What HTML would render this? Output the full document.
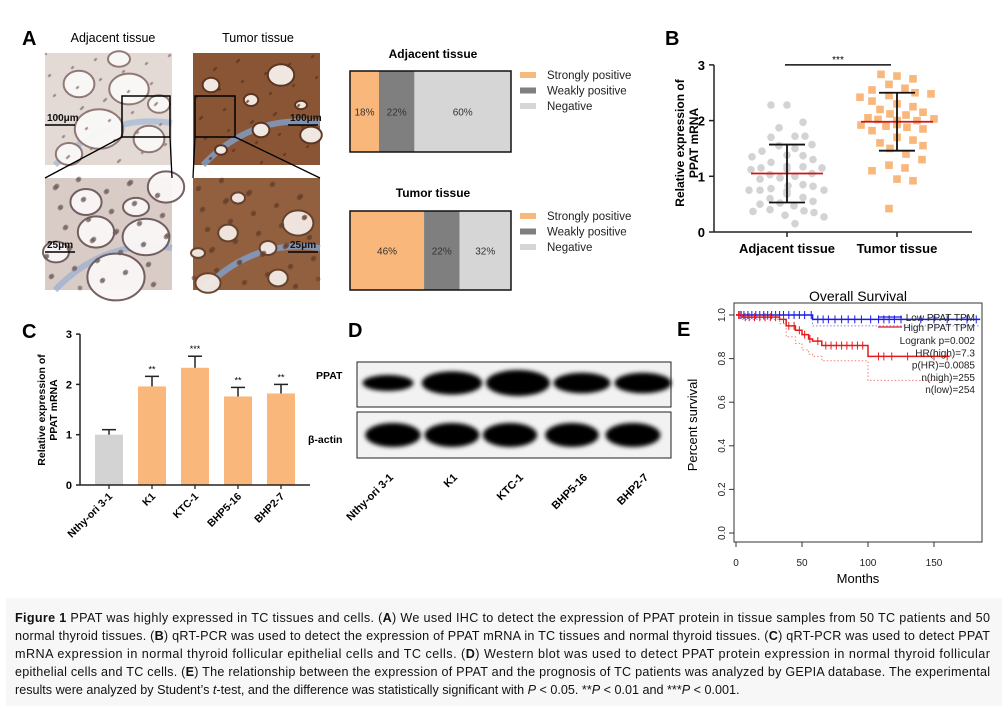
<!DOCTYPE html>
<html><head><meta charset="utf-8">
<style>
html,body{margin:0;padding:0;background:#fff;}
svg{display:block;font-family:"Liberation Sans",Arial,sans-serif;}
.cap{font-size:12.6px;fill:#111;}
</style></head>
<body>
<svg id="fig" width="1008" height="710" viewBox="0 0 1008 710" xmlns="http://www.w3.org/2000/svg">
<defs>
<filter id="blur1" x="-30%" y="-60%" width="160%" height="220%"><feGaussianBlur stdDeviation="2.2"/></filter>
</defs>

<g>
<text x="22" y="45" font-size="20" font-weight="bold">A</text>
<text x="113" y="42" font-size="12.5" text-anchor="middle">Adjacent tissue</text>
<text x="258" y="42" font-size="12.5" text-anchor="middle">Tumor tissue</text>
<g id="tissues"></g>
</g>

<g>
<text x="433" y="58" font-size="12" font-weight="bold" text-anchor="middle">Adjacent tissue</text>
<text x="433" y="197" font-size="12" font-weight="bold" text-anchor="middle">Tumor tissue</text>
<g id="stacks"></g>
</g>

<g>
<text x="665" y="45" font-size="20" font-weight="bold">B</text>
<g id="scatterB"></g>
</g>

<g>
<text x="22" y="338" font-size="20" font-weight="bold">C</text>
<g id="barsC"></g>
</g>

<g>
<text x="348" y="337" font-size="20" font-weight="bold">D</text>
<text x="316" y="379" font-size="10.5" font-weight="bold">PPAT</text>
<text x="308" y="443" font-size="10.5" font-weight="bold">β-actin</text>
<rect x="357" y="362" width="314" height="45" fill="#f2f2f2" stroke="#222" stroke-width="1"/>
<rect x="357" y="412" width="314" height="46" fill="#f2f2f2" stroke="#222" stroke-width="1"/>
<g id="blots"></g>
</g>

<g>
<text x="677" y="336" font-size="20" font-weight="bold">E</text>
<g id="survE"></g>
</g>

<g>
<rect x="6" y="598" width="996" height="108" fill="#f7f7f7"/>
<text class="cap" x="15" y="622" textLength="975" lengthAdjust="spacing"><tspan font-weight="bold">Figure 1</tspan> PPAT was highly expressed in TC tissues and cells. (<tspan font-weight="bold">A</tspan>) We used IHC to detect the expression of PPAT protein in tissue samples from 50 TC patients and 50</text>
<text class="cap" x="15" y="640" textLength="975" lengthAdjust="spacing">normal thyroid tissues. (<tspan font-weight="bold">B</tspan>) qRT-PCR was used to detect the expression of PPAT mRNA in TC tissues and normal thyroid tissues. (<tspan font-weight="bold">C</tspan>) qRT-PCR was used to detect PPAT</text>
<text class="cap" x="15" y="658" textLength="975" lengthAdjust="spacing">mRNA expression in normal thyroid follicular epithelial cells and TC cells. (<tspan font-weight="bold">D</tspan>) Western blot was used to detect PPAT protein expression in normal thyroid follicular</text>
<text class="cap" x="15" y="676" textLength="975" lengthAdjust="spacing">epithelial cells and TC cells. (<tspan font-weight="bold">E</tspan>) The relationship between the expression of PPAT and the prognosis of TC patients was analyzed by GEPIA database. The experimental</text>
<text class="cap" x="15" y="694">results were analyzed by Student’s <tspan font-style="italic">t</tspan>-test, and the difference was statistically significant with <tspan font-style="italic">P</tspan> &lt; 0.05. **<tspan font-style="italic">P</tspan> &lt; 0.01 and ***<tspan font-style="italic">P</tspan> &lt; 0.001.</text>
</g>
</svg>

<script>
const stackCategories = ["Strongly positive","Weakly positive","Negative"];
const adjacentPercents = [18,22,60];
const tumorPercents = [46,22,32];

const bGroups = ["Adjacent tissue","Tumor tissue"];
const adjacentValues = [2.28,2.28,1.97,1.87,1.72,1.70,1.72,1.57,1.55,1.50,1.45,1.38,1.37,1.35,1.30,1.25,1.18,1.17,1.15,1.15,1.13,1.12,1.05,1.03,1.00,0.97,0.95,0.85,0.83,0.82,0.78,0.75,0.75,0.75,0.73,0.70,0.68,0.62,0.60,0.55,0.52,0.50,0.47,0.40,0.38,0.37,0.35,0.30,0.27,0.15];
const tumorValues = [2.83,2.80,2.75,2.65,2.58,2.55,2.50,2.48,2.45,2.42,2.35,2.30,2.25,2.20,2.15,2.12,2.10,2.05,2.03,2.02,2.00,2.00,1.98,1.97,1.95,1.93,1.92,1.90,1.88,1.85,1.82,1.70,1.65,1.60,1.55,1.50,1.40,1.30,1.20,1.15,1.10,0.95,0.92,0.42];
const bMeans = [1.05,1.98];
const bSDs = [0.52,0.52];
const bTicks = [0,1,2,3];

const cCategories = ["Nthy-ori 3-1","K1","KTC-1","BHP5-16","BHP2-7"];
const cValues = [1.00,1.96,2.33,1.76,1.82];
const cErrors = [0.10,0.20,0.23,0.18,0.18];
const cStars = ["","**","***","**","**"];
const cTicks = [0,1,2,3];

const dLanes = ["Nthy-ori 3-1","K1","KTC-1","BHP5-16","BHP2-7"];
const ppatIntensity = [0.45,0.85,1.0,0.7,0.7];
const actinIntensity = [0.95,0.9,0.85,0.8,0.9];

const eXTicks = [0,50,100,150];
const eYTicks = [0,0.2,0.4,0.6,0.8,1.0];
const lowTimes = [0,58,185];
const lowSurv = [1.0,0.98,0.98];
const highTimes = [0,5,33,38,45,50,55,58,65,100,162];
const highSurv = [1.0,0.99,0.98,0.95,0.93,0.91,0.89,0.88,0.86,0.81,0.81];
const highLowerCI = [1.0,0.98,0.96,0.9,0.87,0.84,0.82,0.81,0.79,0.70,0.70];
const lowLowerCI = [1.0,0.95,0.95];
const lowCensor = [3,6,9,12,15,18,21,24,27,30,33,36,40,44,48,52,57,62,66,70,75,80,85,90,95,102,108,112,116,120,125,140,150,160,175,182];
const highCensor = [2,4,7,10,14,18,22,26,30,36,40,44,48,52,56,62,68,72,76,80,84,88,92,96,108,112,118,130,150,160];
const eLegendStats = ["Logrank p=0.002","HR(high)=7.3","p(HR)=0.0085","n(high)=255","n(low)=254"];

const NS = "http://www.w3.org/2000/svg";
function mk(parent, tag, attrs, text){
  const e = document.createElementNS(NS, tag);
  for (const k in attrs) e.setAttribute(k, attrs[k]);
  if (text !== undefined) e.textContent = text;
  parent.appendChild(e);
  return e;
}

(function(){
  const g = document.getElementById('tissues');
  const panels = [
    {x:45,y:53,bg:'#e3d9d5',cell:'#8d7470',hole:'#fbf9f8',blue:'#a9bcd6',s:1.1,name:'adjacent-overview-image'},
    {x:45,y:178,bg:'#d9cbc6',cell:'#6e5a5c',hole:'#faf7f6',blue:'#9fb2cf',s:1.3,name:'adjacent-zoom-image'},
    {x:193,y:53,bg:'#8a5535',cell:'#5a3420',hole:'#f6f0ea',blue:'#7fa1cc',s:0.6,name:'tumor-overview-image'},
    {x:193,y:178,bg:'#93603f',cell:'#64402b',hole:'#f3ece6',blue:'#7fa3d0',s:0.7,name:'tumor-zoom-image'}
  ];
  const holes = [[30,25,14,12],[80,30,18,14],[50,70,22,18],[100,80,14,12],[20,95,12,10],[110,45,10,8],[70,100,10,7]];
  panels.forEach((p,i)=>{
    const pg = mk(g,'g',{});
    
    
    mk(pg,'rect',{x:p.x,y:p.y,width:127,height:112,fill:p.bg});
    mk(pg,'path',{d:`M${p.x+10} ${p.y+112} Q${p.x+60} ${p.y+60} ${p.x+127} ${p.y+70}`,stroke:p.blue,'stroke-width':6,fill:'none',opacity:0.8});
    holes.forEach((h,j)=>{
      const hx=(h[0]+i*17)%120+4, hy=(h[1]+i*23)%100+6;
      mk(pg,'ellipse',{cx:p.x+hx,cy:p.y+hy,rx:h[2]*p.s,ry:h[3]*p.s,fill:p.hole,stroke:p.cell,'stroke-width':2,opacity:0.95});
    });
    for(let k=0;k<60;k++){
      const cx=(k*37+i*11)%125+1, cy=(k*53+i*7)%110+1;
      mk(pg,'circle',{cx:p.x+cx,cy:p.y+cy,r:i%2?2.4:1.3,fill:p.cell,opacity:0.6});
    }
  });
  mk(g,'rect',{x:122,y:96,width:48,height:41,fill:'none',stroke:'#000','stroke-width':1.5});
  mk(g,'line',{x1:122,y1:137,x2:45,y2:178,stroke:'#000','stroke-width':1.3});
  mk(g,'line',{x1:170,y1:137,x2:172,y2:178,stroke:'#000','stroke-width':1.3});
  mk(g,'rect',{x:195,y:96,width:40,height:41,fill:'none',stroke:'#000','stroke-width':1.5});
  mk(g,'line',{x1:195,y1:137,x2:193,y2:178,stroke:'#000','stroke-width':1.3});
  mk(g,'line',{x1:235,y1:137,x2:320,y2:178,stroke:'#000','stroke-width':1.3});
  [[45,125,'100μm'],[288,125,'100μm'],[45,252,'25μm'],[288,252,'25μm']].forEach((s,i)=>{
    const t=mk(g,'text',{x:s[0]+2,y:s[1]-4,'font-size':10,'font-weight':'bold',fill:'#111'},s[2]);
    
    
    mk(g,'line',{x1:s[0],y1:s[1],x2:s[0]+30,y2:s[1],stroke:'#000','stroke-width':1.5});
  });
})();

(function(){
  const g = document.getElementById('stacks');
  const colors = ['#f9b77b','#7f7f7f','#d6d6d6'];
  const sets = [{vals:adjacentPercents,y:71,h:81,ly:75,name:'adjacent'},{vals:tumorPercents,y:211,h:79,ly:216,name:'tumor'}];
  const x0=350, W=161;
  const xs = v => v/100*W;
  sets.forEach(s=>{
    let acc=0;
    s.vals.forEach((v,i)=>{
      const r=mk(g,'rect',{x:x0+xs(acc),y:s.y,width:xs(v),height:s.h,fill:colors[i]});
      
      
      const t=mk(g,'text',{x:x0+xs(acc+v/2),y:s.y+s.h/2+4,'font-size':10,'text-anchor':'middle',fill:'#333'},v+'%');
      
      
      acc+=v;
    });
    mk(g,'rect',{x:x0,y:s.y,width:W,height:s.h,fill:'none',stroke:'#111','stroke-width':1.5});
    stackCategories.forEach((c,i)=>{
      const le=mk(g,'g',{});
      
      
      mk(le,'rect',{x:520,y:s.ly+i*15.5-3,width:16,height:6,fill:colors[i]});
      mk(le,'text',{x:547,y:s.ly+i*15.5+4,'font-size':11.5,fill:'#222'},c);
    });
  });
})();

(function(){
  const g = document.getElementById('scatterB');
  const X0=714, XR=972, Y0=232, U=55.7;
  const ys = v => Y0 - v*U;
  const gx = [787,897];
  mk(g,'line',{x1:X0,y1:Y0,x2:X0,y2:ys(3),stroke:'#222','stroke-width':1.5});
  mk(g,'line',{x1:X0,y1:Y0,x2:XR,y2:Y0,stroke:'#222','stroke-width':1.5});
  bTicks.forEach(t=>{
    mk(g,'line',{x1:X0-5,y1:ys(t),x2:X0,y2:ys(t),stroke:'#222','stroke-width':1.5});
    const tx=mk(g,'text',{x:X0-9,y:ys(t)+5,'font-size':13,'font-weight':'bold','text-anchor':'end'},t);
    
    
  });
  const yl=mk(g,'text',{transform:'translate(684,143) rotate(-90)','font-size':12,'font-weight':'bold','text-anchor':'middle'});
  
  
  mk(yl,'tspan',{x:0,y:0},'Relative expression of');
  mk(yl,'tspan',{x:0,y:14},'PPAT mRNA');
  const data=[adjacentValues,tumorValues];
  data.forEach((vals,gi)=>{
    mk(g,'line',{x1:gx[gi],y1:Y0,x2:gx[gi],y2:Y0+5,stroke:'#222','stroke-width':1.5});
    const lb=mk(g,'text',{x:gx[gi],y:Y0+21,'font-size':13,'font-weight':'bold','text-anchor':'middle'},bGroups[gi]);
    
    
    const placed=[];
    vals.forEach((v,idx)=>{
      const y=ys(v); let off=0;
      const start = ((idx*7)%5-2)*8;
      for(let k=0;k<60;k++){
        const cand = start + (k%2?1:-1)*Math.ceil(k/2)*9;
        if(Math.abs(cand)>40) continue;
        if(placed.every(p=>Math.hypot(p[0]-cand,p[1]-y)>=10)){off=cand;break;}
      }
      placed.push([off,y]);
      let m;
      if(gi===0){ m=mk(g,'circle',{cx:gx[gi]+off,cy:y,r:3.8,fill:'#d3d3d3'}); }
      else { m=mk(g,'rect',{x:gx[gi]+off-3.8,y:y-3.8,width:7.6,height:7.6,fill:'#f9b77b'}); }
      
      
    });
    const mx=gx[gi];
    const mean=mk(g,'line',{x1:mx-36,y1:ys(bMeans[gi]),x2:mx+36,y2:ys(bMeans[gi]),stroke:'#d0141a','stroke-width':1.8});
    
    
    const lo=ys(bMeans[gi]-bSDs[gi]), hi=ys(bMeans[gi]+bSDs[gi]);
    mk(g,'line',{x1:mx,y1:lo,x2:mx,y2:hi,stroke:'#111','stroke-width':1.8});
    mk(g,'line',{x1:mx-18,y1:lo,x2:mx+18,y2:lo,stroke:'#111','stroke-width':1.8});
    mk(g,'line',{x1:mx-18,y1:hi,x2:mx+18,y2:hi,stroke:'#111','stroke-width':1.8});
  });
  mk(g,'line',{x1:785,y1:ys(3),x2:891,y2:ys(3),stroke:'#111','stroke-width':1.5});
  const st=mk(g,'text',{x:838,y:ys(3)-2,'font-size':10,'text-anchor':'middle'},'***');
  
  
})();

(function(){
  const g = document.getElementById('barsC');
  const X0=80, XR=310, Y0=485, U=50.3;
  const ys=v=>Y0-v*U;
  const xc=i=>109+i*43;
  cCategories.forEach((c,i)=>{
    const b=mk(g,'rect',{x:xc(i)-14,y:ys(cValues[i]),width:28,height:cValues[i]*U,fill:i===0?'#d3d3d3':'#f9b77b'});
    
    
    const top=ys(cValues[i]+cErrors[i]);
    mk(g,'line',{x1:xc(i),y1:ys(cValues[i]),x2:xc(i),y2:top,stroke:'#222','stroke-width':1.5});
    mk(g,'line',{x1:xc(i)-7,y1:top,x2:xc(i)+7,y2:top,stroke:'#222','stroke-width':1.5});
    if(cStars[i]){
      const s=mk(g,'text',{x:xc(i),y:top-4,'font-size':9,'text-anchor':'middle'},cStars[i]);
      
      
    }
    mk(g,'line',{x1:xc(i),y1:Y0,x2:xc(i),y2:Y0+4,stroke:'#222','stroke-width':1.3});
    const t=mk(g,'text',{transform:`translate(${xc(i)+4},${Y0+12}) rotate(-45)`,'font-size':10.5,'font-weight':'bold','text-anchor':'end'},c);
    
    
  });
  mk(g,'line',{x1:X0,y1:Y0,x2:X0,y2:ys(3),stroke:'#222','stroke-width':1.5});
  mk(g,'line',{x1:X0,y1:Y0,x2:XR,y2:Y0,stroke:'#222','stroke-width':1.5});
  cTicks.forEach(t=>{
    mk(g,'line',{x1:X0-4,y1:ys(t),x2:X0,y2:ys(t),stroke:'#222','stroke-width':1.5});
    const tx=mk(g,'text',{x:X0-8,y:ys(t)+4,'font-size':11,'font-weight':'bold','text-anchor':'end'},t);
    
    
  });
  const yl=mk(g,'text',{transform:'translate(45,410) rotate(-90)','font-size':10.5,'font-weight':'bold','text-anchor':'middle'});
  
  
  mk(yl,'tspan',{x:0,y:0},'Relative expression of');
  mk(yl,'tspan',{x:0,y:12},'PPAT mRNA');
})();

(function(){
  const g=document.getElementById('blots');
  const cx=[388,452,518,582,643];
  const ax=[393,452,510,572,633];
  dLanes.forEach((l,i)=>{
    const a=ppatIntensity[i];
    const b1=mk(g,'ellipse',{cx:cx[i],cy:383,rx:20+a*12,ry:4+a*9,fill:'#000',filter:'url(#blur1)'});
    
    
    const b2=mk(g,'ellipse',{cx:ax[i],cy:435,rx:22+actinIntensity[i]*6,ry:12,fill:'#000',filter:'url(#blur1)'});
    
    
    const t=mk(g,'text',{transform:`translate(${cx[i]+6},${478}) rotate(-45)`,'font-size':11,'font-weight':'bold','text-anchor':'end'},l);
    
    
  });
})();

(function(){
  const g=document.getElementById('survE');
  const X0=734, Y1=315, Y0=533, XR=982, YT=303, YB=542;
  const xs=m=>X0+2+m*1.32;
  const ys=v=>Y0-v*(Y0-Y1);
  mk(g,'rect',{x:X0,y:YT,width:XR-X0,height:YB-YT,fill:'none',stroke:'#333','stroke-width':1});
  const title=mk(g,'text',{x:858,y:301,'font-size':14,'text-anchor':'middle'},'Overall Survival');
  
  
  eXTicks.forEach(t=>{
    mk(g,'line',{x1:xs(t),y1:YB,x2:xs(t),y2:YB+5,stroke:'#333'});
    const tx=mk(g,'text',{x:xs(t),y:566,'font-size':10,'text-anchor':'middle',fill:'#222'},t);
    
    
  });
  eYTicks.forEach(t=>{
    mk(g,'line',{x1:X0,y1:ys(t),x2:X0-5,y2:ys(t),stroke:'#333'});
    const tx=mk(g,'text',{transform:`translate(${X0-9},${ys(t)}) rotate(-90)`,'font-size':10,'text-anchor':'middle',fill:'#222'},t.toFixed(1));
    
    
  });
  const xl=mk(g,'text',{x:858,y:583,'font-size':13,'text-anchor':'middle'},'Months');
  
  
  const yl=mk(g,'text',{transform:'translate(697,425) rotate(-90)','font-size':13,'text-anchor':'middle'},'Percent survival');
  
  
  function step(times,vals){
    let d=`M${xs(times[0])} ${ys(vals[0])}`;
    for(let i=1;i<times.length;i++){ d+=` H${xs(times[i])} V${ys(vals[i])}`; }
    return d;
  }
  function valAt(times,vals,t){ let v=vals[0]; for(let i=0;i<times.length;i++){ if(times[i]<=t) v=vals[i]; } return v; }
  const ciH=mk(g,'path',{d:step(highTimes,highLowerCI),fill:'none',stroke:'#f08080','stroke-width':1,'stroke-dasharray':'1.5,2'});
  
  
  const ciL=mk(g,'path',{d:step(lowTimes,lowLowerCI),fill:'none',stroke:'#8080f0','stroke-width':1,'stroke-dasharray':'1.5,2'});
  
  
  const lowP=mk(g,'path',{d:step(lowTimes,lowSurv),fill:'none',stroke:'#1a1ae6','stroke-width':1.5});
  
  
  lowCensor.forEach(t=>{ const y=ys(valAt(lowTimes,lowSurv,t)); mk(g,'line',{x1:xs(t),y1:y-4,x2:xs(t),y2:y+4,stroke:'#1a1ae6','stroke-width':1}); });
  const highP=mk(g,'path',{d:step(highTimes,highSurv),fill:'none',stroke:'#e61a1a','stroke-width':1.5});
  
  
  highCensor.forEach(t=>{ const y=ys(valAt(highTimes,highSurv,t)); mk(g,'line',{x1:xs(t),y1:y-4,x2:xs(t),y2:y+4,stroke:'#e61a1a','stroke-width':1}); });
  const lg=mk(g,'g',{});
  
  
  mk(lg,'line',{x1:878,y1:317,x2:902,y2:317,stroke:'#1a1ae6','stroke-width':1.3});
  mk(lg,'text',{x:975,y:321,'font-size':10,'text-anchor':'end',fill:'#222'},'Low PPAT TPM');
  mk(lg,'line',{x1:878,y1:327,x2:902,y2:327,stroke:'#e61a1a','stroke-width':1.3});
  mk(lg,'text',{x:975,y:331,'font-size':10,'text-anchor':'end',fill:'#222'},'High PPAT TPM');
  eLegendStats.forEach((s,i)=>{ mk(lg,'text',{x:975,y:344+i*12.3,'font-size':10,'text-anchor':'end',fill:'#222'},s); });
})();
</script>
</body></html>
